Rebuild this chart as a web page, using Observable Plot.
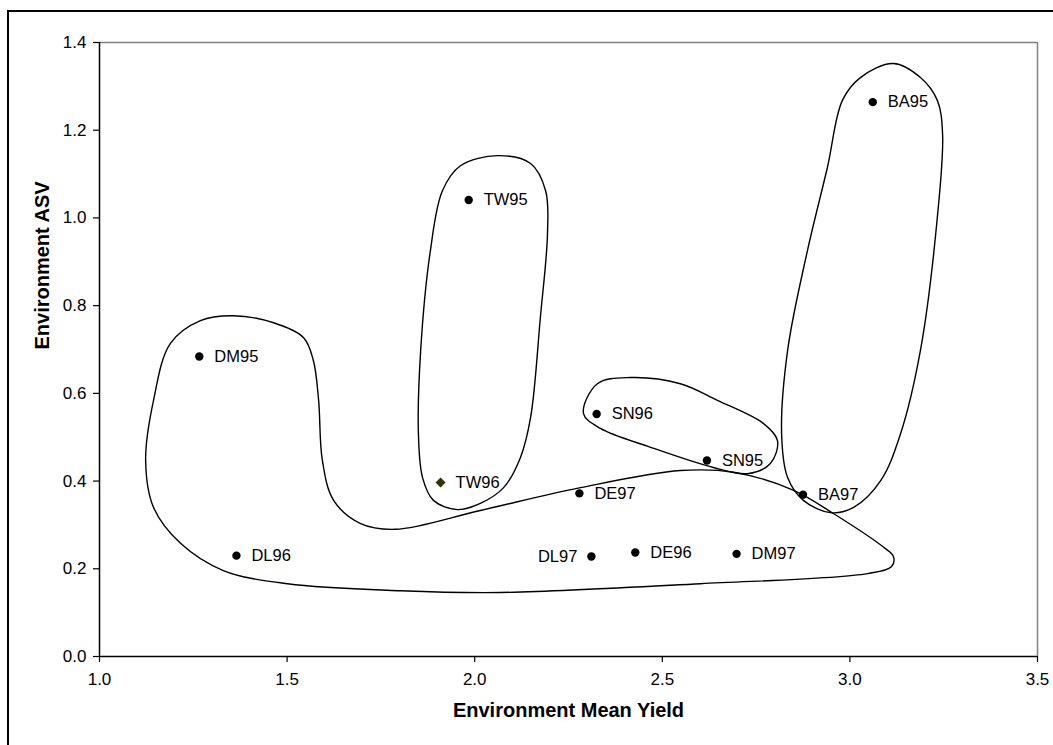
<!DOCTYPE html>
<html>
<head>
<meta charset="utf-8">
<script src="https://cdn.jsdelivr.net/npm/d3@7"></script>
<script src="https://cdn.jsdelivr.net/npm/@observablehq/plot@0.6"></script>
<style>
  html, body { margin: 0; padding: 0; background: #fff; overflow: hidden; width: 1053px; height: 745px; }
  #frame { position: absolute; left: 7px; top: 10px; width: 1100px; height: 800px; border: 2px solid #000; box-sizing: border-box; }
  #chart { position: absolute; left: 0; top: 0; }
</style>
</head>
<body>
<div id="frame"></div>
<div id="chart"></div>
<script>
// Environments, their mean yield (x) and ASV (y)
const envs      = ["DM95","DL96","TW95","TW96","DE97","DL97","DE96","DM97","SN96","SN95","BA97","BA95"];
const meanYield = [1.266, 1.365, 1.984, 1.909, 2.279, 2.311, 2.428, 2.698, 2.325, 2.619, 2.875, 3.061];
const asv       = [0.684, 0.230, 1.041, 0.397, 0.372, 0.228, 0.237, 0.234, 0.553, 0.447, 0.369, 1.264];
const labelLeft = ["DL97"];
const diamondEnv = ["TW96"];

const xTicks = [1.0, 1.5, 2.0, 2.5, 3.0, 3.5];
const yTicks = [0.0, 0.2, 0.4, 0.6, 0.8, 1.0, 1.2, 1.4];

// Hand-drawn group envelopes (data units: mean yield, ASV)
const envelopeLow = [
  [1.189,0.714],[1.269,0.766],[1.357,0.777],[1.464,0.761],[1.544,0.727],[1.570,0.675],
  [1.584,0.584],[1.594,0.447],[1.624,0.356],[1.696,0.303],[1.789,0.290],[2.015,0.333],
  [2.282,0.385],[2.548,0.424],[2.690,0.420],[2.850,0.379],[2.956,0.326],[3.090,0.249],
  [3.116,0.228],[3.111,0.205],[3.047,0.189],[2.602,0.166],[2.069,0.146],[1.802,0.150],[1.501,0.166],
  [1.330,0.196],[1.216,0.258],[1.144,0.340],[1.123,0.447],[1.144,0.584]
];
const envelopeTW = [
  [2.061,1.142],[2.149,1.124],[2.189,1.062],[2.194,0.964],[2.175,0.773],[2.149,0.545],
  [2.122,0.454],[2.077,0.385],[2.015,0.349],[1.954,0.335],[1.890,0.356],[1.861,0.408],
  [1.850,0.508],[1.856,0.698],[1.882,0.926],[1.914,1.062],[1.962,1.119]
];
const envelopeSN = [
  [2.290,0.554],[2.335,0.520],[2.469,0.477],[2.636,0.431],[2.727,0.417],[2.788,0.440],
  [2.807,0.492],[2.770,0.531],[2.647,0.584],[2.548,0.622],[2.415,0.636],[2.327,0.622]
];
const envelopeBA = [
  [2.980,1.268],[3.028,1.320],[3.116,1.352],[3.188,1.320],[3.233,1.268],[3.247,1.192],
  [3.233,1.001],[3.188,0.698],[3.135,0.508],[3.082,0.401],[3.010,0.340],[2.948,0.328],
  [2.876,0.356],[2.834,0.408],[2.818,0.508],[2.834,0.698],[2.887,0.926],[2.940,1.115]
];

const points = envs.map((e, i) => ({env: e, x: meanYield[i], y: asv[i]}));
const outlines = [
  ["low", envelopeLow], ["TW", envelopeTW], ["SN", envelopeSN], ["BA", envelopeBA]
].flatMap(([g, pts]) => pts.map(([x, y]) => ({g, x, y})));

const font = "'Liberation Sans', Arial, Helvetica, sans-serif";

const chart = Plot.plot({
  width: 1053,
  height: 745,
  marginLeft: 99,
  marginRight: 16,
  marginTop: 42,
  marginBottom: 89,
  style: {fontFamily: font, background: "transparent", color: "#000", overflow: "visible"},
  x: {domain: [1, 3.5]},
  y: {domain: [0, 1.4]},
  marks: [
    Plot.ruleY([1.4], {stroke: "#808080", strokeWidth: 1.5}),
    Plot.ruleX([3.5], {stroke: "#808080", strokeWidth: 1.5}),
    Plot.line(outlines, {x: "x", y: "y", z: "g", curve: "catmull-rom-closed", stroke: "#000", strokeWidth: 1.4}),
    Plot.axisX({ticks: xTicks, tickFormat: d3.format(".1f"), tickSize: 6, tickPadding: 10, fontSize: 17, label: null, stroke: "#000", strokeWidth: 1.2}),
    Plot.axisY({ticks: yTicks, tickFormat: d3.format(".1f"), tickSize: 6, tickPadding: 7, fontSize: 17, label: null, stroke: "#000", strokeWidth: 1.2}),
    Plot.ruleY([0], {stroke: "#000", strokeWidth: 1.5}),
    Plot.ruleX([1], {stroke: "#000", strokeWidth: 1.5}),
    Plot.dot(points.filter(d => !diamondEnv.includes(d.env)), {x: "x", y: "y", r: 4.2, fill: "#000", stroke: "none"}),
    Plot.dot(points.filter(d => diamondEnv.includes(d.env)), {x: "x", y: "y", r: 4.5, symbol: "diamond2", fill: "#333300", stroke: "none"}),
    Plot.text(points.filter(d => !labelLeft.includes(d.env)), {x: "x", y: "y", text: "env", textAnchor: "start", dx: 15, fontSize: 16.5, fill: "#000", style: "letter-spacing:-0.6px"}),
    Plot.text(points.filter(d => labelLeft.includes(d.env)), {x: "x", y: "y", text: "env", textAnchor: "end", dx: -14, fontSize: 16.5, fill: "#000", style: "letter-spacing:-0.6px"}),
    Plot.text(["Environment Mean Yield"], {frameAnchor: "bottom", dy: 60, fontSize: 20, fontWeight: "bold", fill: "#000"}),
    Plot.text(["Environment ASV"], {frameAnchor: "left", dx: -57, rotate: -90, fontSize: 20, fontWeight: "bold", fill: "#000"})
  ]
});
document.getElementById("chart").appendChild(chart);
</script>
</body>
</html>
